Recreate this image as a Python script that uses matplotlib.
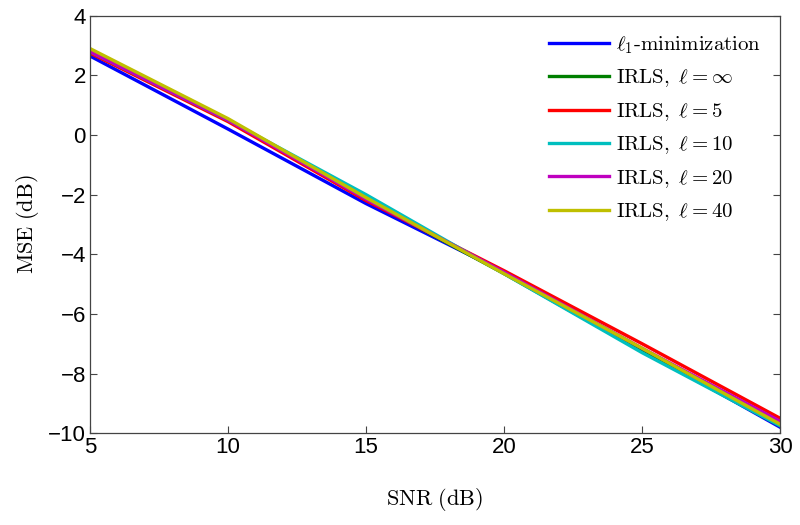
import matplotlib
matplotlib.use('Agg')
import matplotlib.pyplot as plt

plt.rcParams['mathtext.fontset'] = 'cm'

# SNR grid and MSE curves (dB)
snr = [5, 10, 15, 20, 25, 30]
mse_l1    = [2.65, 0.20, -2.30, -4.60, -7.20, -9.80]
mse_inf   = [2.80, 0.50, -2.15, -4.65, -7.25, -9.75]
mse_l5    = [2.75, 0.45, -2.20, -4.55, -7.00, -9.50]
mse_l10   = [2.80, 0.50, -2.00, -4.65, -7.30, -9.75]
mse_l20   = [2.80, 0.50, -2.15, -4.60, -7.15, -9.60]
mse_l40   = [2.90, 0.55, -2.10, -4.65, -7.15, -9.70]

labels = [r'$\ell_1\mathrm{\text{-}minimization}$',
          r'$\mathrm{IRLS},\ \ell=\infty$',
          r'$\mathrm{IRLS},\ \ell=5$',
          r'$\mathrm{IRLS},\ \ell=10$',
          r'$\mathrm{IRLS},\ \ell=20$',
          r'$\mathrm{IRLS},\ \ell=40$']
colors = ['#0000ff', '#007f00', '#ff0000', '#00bfbf', '#bf00bf', '#bfbf00']
series = [mse_l1, mse_inf, mse_l5, mse_l10, mse_l20, mse_l40]

fig = plt.figure(figsize=(8, 5.25), dpi=100)
ax = fig.add_axes([0.1125, 0.175, 0.8625, 0.795])

for y, c, lab in zip(series, colors, labels):
    ax.plot(snr, y, color=c, linewidth=2.4, label=lab)

ax.set_xlim(5, 30)
ax.set_ylim(-10, 4)
ax.set_xticks([5, 10, 15, 20, 25, 30])
ax.set_yticks([-10, -8, -6, -4, -2, 0, 2, 4])
ax.set_yticklabels(['\u221210', '\u22128', '\u22126', '\u22124', '\u22122', '0', '2', '4'])
ax.tick_params(direction='in', length=5, width=0.8, labelsize=16, pad=3,
               top=False, right=True, color='#444444')
for lab in ax.get_xticklabels() + ax.get_yticklabels():
    lab.set_family('Liberation Sans')
for s in ax.spines.values():
    s.set_color('#444444')
    s.set_linewidth(0.9)

ax.set_xlabel(r'$\mathrm{SNR\ (dB)}$', fontsize=16, labelpad=20)
ax.set_ylabel(r'$\mathrm{MSE\ (dB)}$', fontsize=16, labelpad=5)

ax.legend(loc='upper right', frameon=False, fontsize=15, handlelength=2.9,
          labelspacing=0.55, borderaxespad=0.5, handletextpad=0.35)

fig.savefig('out.png', dpi=100)
